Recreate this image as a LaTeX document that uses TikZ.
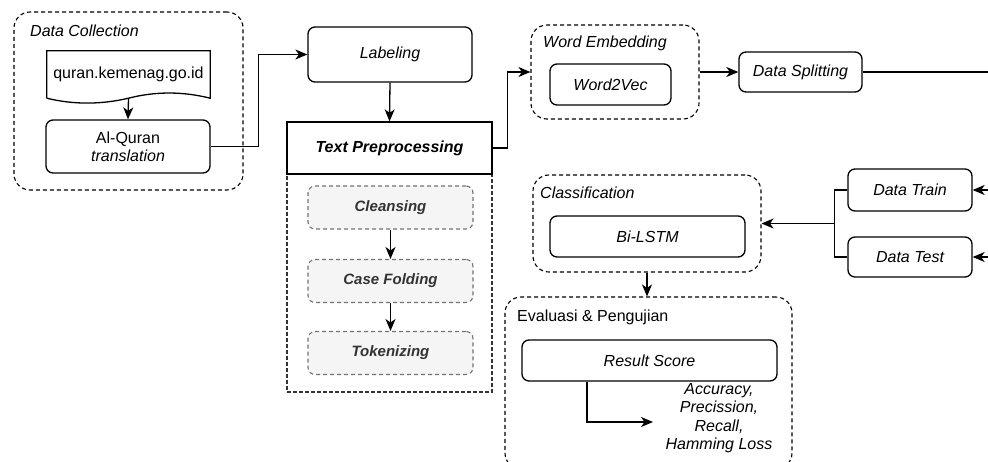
\documentclass[tikz,border=0pt]{standalone}
\usepackage{fontspec}
\setmainfont{Liberation Sans}
\usetikzlibrary{positioning,arrows.meta,calc}
\newcommand{\fs}{\fontsize{16}{18.4}\selectfont}

\begin{document}
\begin{tikzpicture}[x=1pt, y=-1pt,
  >={Stealth[length=12pt,width=10pt,inset=3.5pt]},
  every node/.style={font=\fs},
  box/.style={draw, line width=1.3pt, rounded corners=7pt, align=center, inner sep=0pt},
  grp/.style={draw, line width=1.1pt, dash pattern=on 4pt off 3pt,
              rounded corners=16pt, inner sep=0pt},
  sub/.style={draw=black!55, fill=black!4, line width=1.1pt, dash pattern=on 4pt off 3pt,
              rounded corners=7pt, inner sep=0pt, minimum width=165pt, minimum height=43pt,
              text=black!80, font=\fontsize{15}{18}\selectfont\bfseries\itshape},
  grptitle/.style={anchor=west, inner sep=0pt},
  line/.style={line width=1.3pt}]
  \clip (0,0) rectangle (988,461);

  % data collection
  \node[grp, minimum width=229pt, minimum height=178pt] (dc) at (128.5,101) {};
  \node[grptitle, font=\fs\itshape] (dct) at (30,31) {Data Collection};
  \node[inner sep=0pt, minimum width=163pt, minimum height=47pt] (src) at (128.5,74.5) {quran.kemenag.go.id};
  \draw[line] (src.south west) -- (src.north west) -- (src.north east) -- (src.south east)
    .. controls (182.7,91.3) and (155.3,91.3) .. (src.south)
    .. controls (100.7,104.7) and (73.3,104.7) .. (src.south west);
  \node[box, minimum width=164pt, minimum height=53pt] (quran) at (128,146.5) {Al-Quran\\\textit{translation}};

  % labeling and preprocessing
  \node[box, font=\fs\itshape, minimum width=164pt, minimum height=55pt] (lab) at (390,54.5) {Labeling};
  \node[draw=black!80, line width=1.1pt, dash pattern=on 4pt off 2pt,
        minimum width=205pt, minimum height=218pt] (tpbody) at (389.5,283) {};
  \node[box, rounded corners=0pt, font=\fs\bfseries\itshape, minimum width=205pt,
        minimum height=52pt] (tp) at (389.5,148) {Text Preprocessing};
  \node[sub] (cl) at (390.5,207.5) {Cleansing};
  \node[sub] (cf) at (390.5,281) {Case Folding};
  \node[sub] (tk) at (390.5,353) {Tokenizing};

  % embedding and splitting
  \node[grp, minimum width=168pt, minimum height=94pt] (we) at (615,72) {};
  \node[grptitle, font=\fs\itshape] (wet) at (543,43) {Word Embedding};
  \node[box, font=\fs\itshape, minimum width=121pt, minimum height=41pt] (w2v) at (610.5,84.5) {Word2Vec};
  \node[box, font=\fs\itshape, minimum width=123pt, minimum height=40pt] (ds) at (800.5,72) {Data Splitting};
  \node[box, font=\fs\itshape, minimum width=124pt, minimum height=42pt] (dtr) at (910,190) {Data Train};
  \node[box, font=\fs\itshape, minimum width=124pt, minimum height=40pt] (dte) at (910,257) {Data Test};

  % classification
  \node[grp, minimum width=228pt, minimum height=97pt] (cls) at (647,223.5) {};
  \node[grptitle, font=\fs\itshape] (clst) at (540,193) {Classification};
  \node[box, font=\fs\itshape, minimum width=195pt, minimum height=41pt] (bil) at (647.5,236.5) {Bi-LSTM};

  % evaluation
  \node[grp, minimum width=287pt, minimum height=172pt] (ev) at (648.5,383) {};
  \node[grptitle] (evt) at (517,317) {Evaluasi \& Pengujian};
  \node[box, font=\fs\itshape, minimum width=255pt, minimum height=41pt] (rs) at (649.5,360.5) {Result Score};
  \node[font=\fs\itshape, align=center, inner sep=0pt] (met) at (719,418)
    {Accuracy,\\Precission,\\Recall,\\Hamming Loss};

  \coordinate (toR) at (990,72);
  \coordinate (frTr) at (990,190);
  \coordinate (frTe) at (990,257);
  \coordinate (split) at ($(dtr.west)!0.5!(dte.west)+(-13,0)$);
  \coordinate (metin) at (653,422);

  \draw[line,->] (src.south) -- (quran.north);
  \draw[line,->] (quran.east) -- ++(48,0) |- (lab.west);
  \draw[line,->] (lab.south) -- (tp.north);
  \draw[line,->] (cl.south) -- (cf.north);
  \draw[line,->] (cf.south) -- (tk.north);
  \draw[line,->] (tp.east) -- ++(15,0) |- (we.west);
  \draw[line,->] (we.east) -- (ds.west);
  \draw[line] (ds.east) -- (toR);
  \draw[line,->] (frTr) -- (dtr.east);
  \draw[line,->] (frTe) -- (dte.east);
  \draw[line] (dtr.west) -- ++(-13,0) |- (dte.west);
  \draw[line,->] (split) -- (cls.east);
  \draw[line,->] (cls.south) -- (cls.south |- ev.north);
  \draw[line,->] ([xshift=-62.5pt]rs.south) |- (metin);
\end{tikzpicture}
\end{document}
